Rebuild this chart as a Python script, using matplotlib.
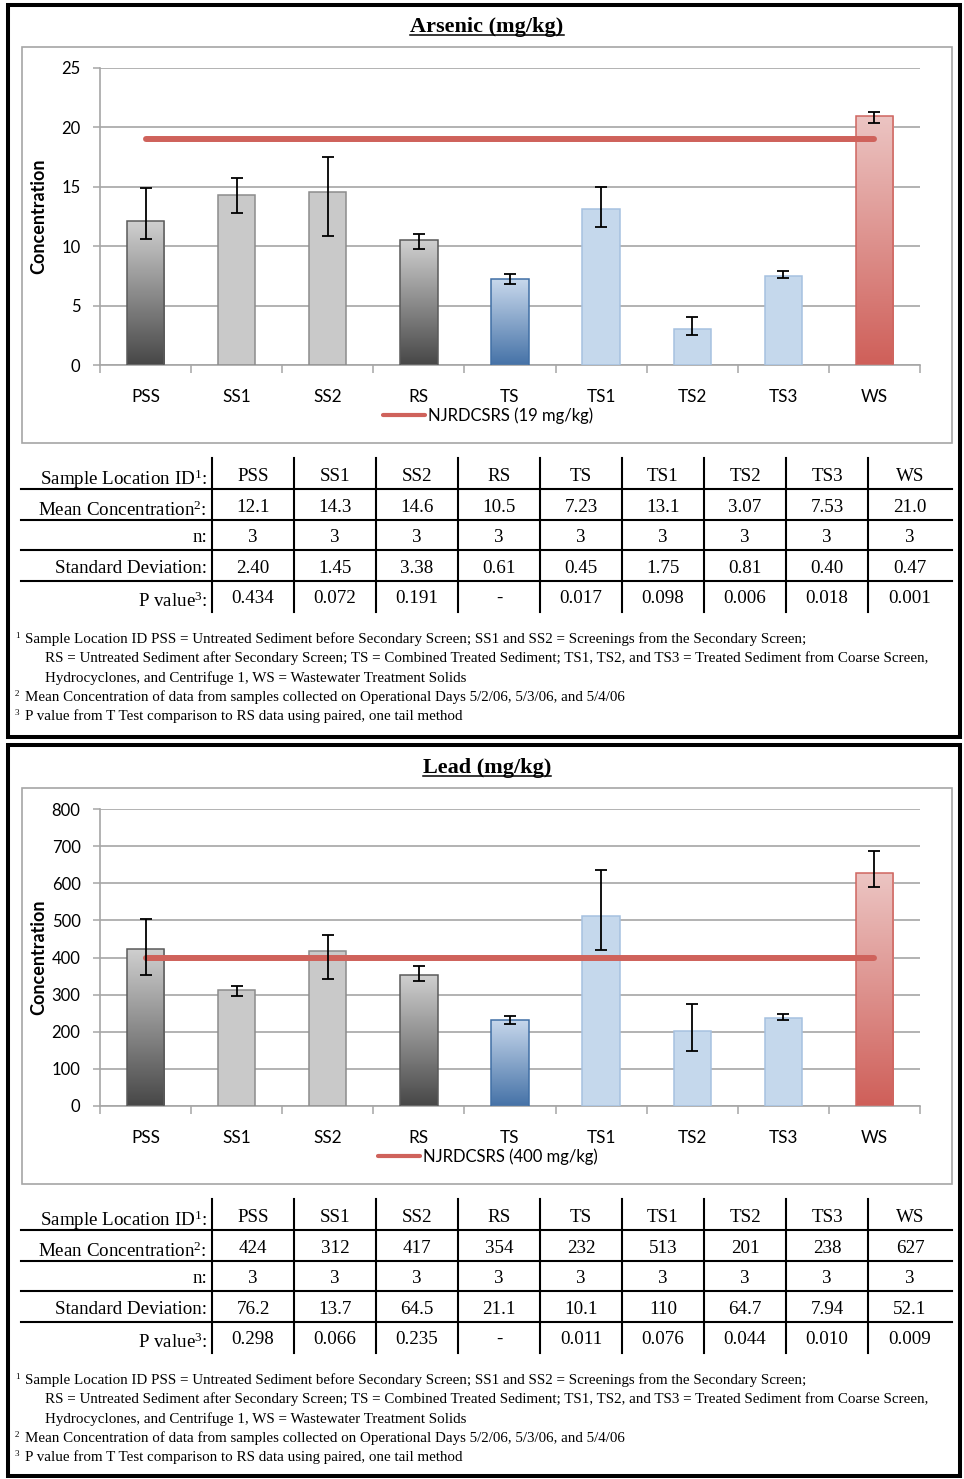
import numpy as np
import matplotlib
matplotlib.use("Agg")
import matplotlib.pyplot as plt
from matplotlib.colors import LinearSegmentedColormap
from matplotlib.patches import Rectangle
from matplotlib.lines import Line2D

W, H = 964, 1479
plt.rcParams['font.family'] = ['Lato', 'DejaVu Sans']
plt.rcParams['mathtext.fontset'] = 'custom'
plt.rcParams['mathtext.rm'] = 'Liberation Serif'
plt.rcParams['mathtext.it'] = 'Liberation Serif:italic'
plt.rcParams['mathtext.bf'] = 'Liberation Serif:bold'
SERIF = 'Liberation Serif'

# data
categories = ['PSS', 'SS1', 'SS2', 'RS', 'TS', 'TS1', 'TS2', 'TS3', 'WS']
n_txt = ['3', '3', '3', '3', '3', '3', '3', '3', '3']

as_mean = [12.1, 14.3, 14.6, 10.5, 7.23, 13.1, 3.07, 7.53, 21.0]
as_err_lo = [10.6, 12.8, 10.9, 9.8, 6.8, 11.6, 2.5, 7.3, 20.4]
as_err_hi = [14.9, 15.7, 17.5, 11.0, 7.7, 15.0, 4.0, 7.95, 21.3]
as_mean_txt = ['12.1', '14.3', '14.6', '10.5', '7.23', '13.1', '3.07', '7.53', '21.0']
as_sd_txt = ['2.40', '1.45', '3.38', '0.61', '0.45', '1.75', '0.81', '0.40', '0.47']
as_p_txt = ['0.434', '0.072', '0.191', '-', '0.017', '0.098', '0.006', '0.018', '0.001']
as_limit = 19

pb_mean = [424, 312, 417, 354, 232, 513, 201, 238, 627]
pb_err_lo = [353, 296, 343, 336, 221, 420, 149, 231, 590]
pb_err_hi = [505, 323, 460, 376, 242, 635, 274, 247, 687]
pb_mean_txt = ['424', '312', '417', '354', '232', '513', '201', '238', '627']
pb_sd_txt = ['76.2', '13.7', '64.5', '21.1', '10.1', '110', '64.7', '7.94', '52.1']
pb_p_txt = ['0.298', '0.066', '0.235', '-', '0.011', '0.076', '0.044', '0.010', '0.009']
pb_limit = 400

row_labels = ['Sample Location ID$^{1}$:', 'Mean Concentration$^{2}$:', 'n:',
              'Standard Deviation:', 'P value$^{3}$:']
footnotes = [
    ('1', 25, 'Sample Location ID PSS = Untreated Sediment before Secondary Screen; SS1 and SS2 = Screenings from the Secondary Screen;'),
    ('', 45, 'RS = Untreated Sediment after Secondary Screen; TS = Combined Treated Sediment; TS1, TS2, and TS3 = Treated Sediment from Coarse Screen,'),
    ('', 45, 'Hydrocyclones, and Centrifuge 1, WS = Wastewater Treatment Solids'),
    ('2', 25, 'Mean Concentration of data from samples collected on Operational Days 5/2/06, 5/3/06, and 5/4/06'),
    ('3', 25, 'P value from T Test comparison to RS data using paired, one tail method'),
]

# (top colour, bottom colour, edge)
DARK = ('#d0d0d0', '#474747', '#5a5a5a')
GRAY = ('#c9c9c9', '#c9c9c9', '#8c8c8c')
BLUE = ('#c8d8ec', '#4572a7', '#406fa5')
LBLUE = ('#c5d8ec', '#c5d8ec', '#a6c1e0')
RED = ('#ecc5c3', '#cf5f59', '#cf6660')
bar_styles = [DARK, GRAY, GRAY, DARK, BLUE, LBLUE, LBLUE, LBLUE, RED]

GRID = '#a6a6a6'
LINE_RED = '#cf625b'


def fx(px):
    return px / W


def fy(py):
    return 1 - py / H


def draw_panel(fig, off, box, title, mean, err_lo, err_hi, limit, ymax, ystep,
               mean_txt, sd_txt, p_txt):
    # outer black box
    fig.add_artist(Rectangle((fx(8), fy(box[1])), (960 - 8) / W, (box[1] - box[0]) / H,
                             transform=fig.transFigure, fill=False, ec='black', lw=2.9))
    # title, underlined
    t = fig.text(fx(487), fy(32 + off), title, ha='center', va='baseline',
                 family=SERIF, weight='bold', size=16)
    bb = t.get_window_extent(fig.canvas.get_renderer())
    fig.add_artist(Line2D([bb.x0 / W, bb.x1 / W], [fy(35 + off)] * 2,
                          transform=fig.transFigure, color='black', lw=1.1))
    # chart frame
    fig.add_artist(Rectangle((fx(22), fy(443 + off)), 930 / W, 396 / H,
                             transform=fig.transFigure, fill=False, ec=GRID, lw=1.2))

    ax = fig.add_axes([fx(100), fy(365 + off), 820 / W, 297 / H])
    x = np.arange(len(categories))
    mean = np.array(mean, dtype=float)
    bars = ax.bar(x, mean, width=0.41, zorder=3, lw=1.1)
    grad = np.linspace(0, 1, 256).reshape(-1, 1)
    for b, (top, bottom, edge) in zip(bars, bar_styles):
        b.set_edgecolor(edge)
        if top == bottom:
            b.set_facecolor(top)
        else:
            b.set_facecolor('none')
            cmap = LinearSegmentedColormap.from_list('g', [bottom, top])
            img = ax.imshow(grad, cmap=cmap, origin='lower', aspect='auto', zorder=2.5,
                            extent=[b.get_x(), b.get_x() + b.get_width(), 0, b.get_height()])
            img.set_clip_path(b)

    ax.plot(x, [limit] * len(x), color=LINE_RED, lw=4.3, solid_capstyle='round',
            zorder=4, label='NJRDCSRS (%d mg/kg)' % limit)
    ax.errorbar(x, mean, yerr=[mean - np.array(err_lo), np.array(err_hi) - mean],
                fmt='none', ecolor='black', elinewidth=1.3, capsize=4, capthick=1.3, zorder=5)

    ax.set_xlim(-0.5, len(x) - 0.5)
    ax.set_ylim(0, ymax)
    ax.set_yticks(np.arange(0, ymax + 1, ystep))
    ax.set_xticks(x, categories)
    ax.set_xticks(np.arange(-0.5, len(x)), minor=True)
    ax.yaxis.grid(True, color=GRID, lw=1.2)
    ax.set_axisbelow(True)
    for s in ['top', 'right']:
        ax.spines[s].set_visible(False)
    for s in ['left', 'bottom']:
        ax.spines[s].set_color(GRID)
        ax.spines[s].set_linewidth(1.2)
    ax.tick_params(axis='y', length=5, width=1.1, color=GRID, labelsize=12, pad=9)
    ax.tick_params(axis='x', which='major', length=0, labelsize=12.3, pad=17)
    ax.tick_params(axis='x', which='minor', length=6, width=1.1, color=GRID)

    leg = ax.legend(loc='center', bbox_to_anchor=(fx(488), fy(416 + off)),
                    bbox_transform=fig.transFigure, frameon=False, fontsize=12,
                    handlelength=2.5, handletextpad=0.2, borderpad=0)
    leg.get_lines()[0].set_linewidth(3)

    fig.text(fx(39), fy(216 + off), 'Concentration', rotation=90, ha='center', va='center',
             weight='bold', size=13)

    # table
    col_edges = [212, 294, 376, 458, 540, 622, 704, 786, 868, 952]
    for ce in col_edges[:-1]:
        fig.add_artist(Line2D([fx(ce)] * 2, [fy(458 + off), fy(612 + off)],
                              transform=fig.transFigure, color='black', lw=1.5))
    for hy in [489, 520, 550, 581]:
        fig.add_artist(Line2D([fx(21), fx(952)], [fy(hy + off)] * 2,
                              transform=fig.transFigure, color='black', lw=1.5))
    rows = [categories, mean_txt, n_txt, sd_txt, p_txt]
    val_base = [481, 512, 542, 573, 603]
    lab_base = [485, 516, 542, 573, 607]
    for r, vals in enumerate(rows):
        fig.text(fx(207), fy(lab_base[r] + off), row_labels[r], ha='right', va='baseline',
                 family=SERIF, size=13.7)
        for j, v in enumerate(vals):
            cx = (col_edges[j] + col_edges[j + 1]) / 2
            fig.text(fx(cx), fy(val_base[r] + off), v, ha='center', va='baseline',
                     family=SERIF, size=13.7)

    # footnotes
    foot_base = [643, 662, 682, 701, 720]
    for (mark, xs, txt), yb in zip(footnotes, foot_base):
        if mark:
            fig.text(fx(15), fy(yb - 5 + off), mark, ha='left', va='baseline',
                     family=SERIF, size=6.5)
        fig.text(fx(xs), fy(yb + off), txt, ha='left', va='baseline', family=SERIF, size=10.85)


fig = plt.figure(figsize=(W / 100, H / 100), dpi=100)
draw_panel(fig, 0, (5, 737), 'Arsenic (mg/kg)', as_mean, as_err_lo, as_err_hi, as_limit,
           25, 5, as_mean_txt, as_sd_txt, as_p_txt)
draw_panel(fig, 741, (745, 1476), 'Lead (mg/kg)', pb_mean, pb_err_lo, pb_err_hi, pb_limit,
           800, 100, pb_mean_txt, pb_sd_txt, pb_p_txt)
fig.savefig('out.png', dpi=100)
